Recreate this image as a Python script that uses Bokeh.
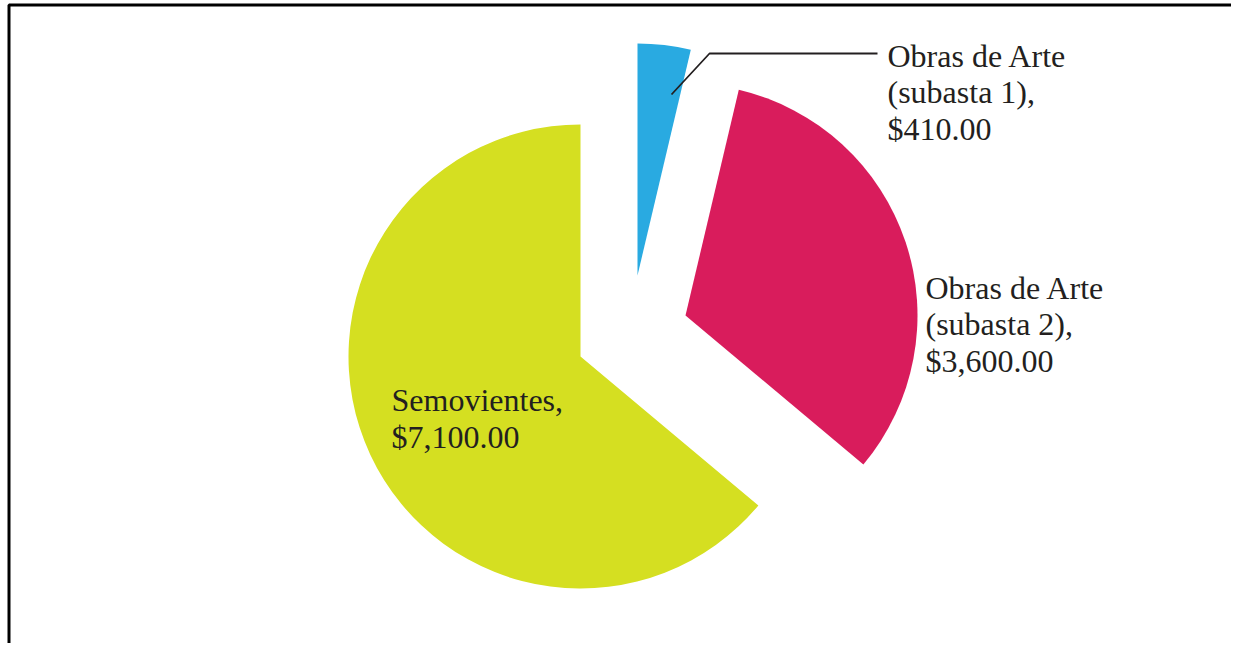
import math
from bokeh.plotting import figure
from bokeh.models import ColumnDataSource, Range1d
from bokeh.core.properties import value
from bokeh.embed import file_html
from bokeh.resources import INLINE

# ---- data ----
categories = ["Obras de Arte (subasta 1)", "Obras de Arte (subasta 2)", "Semovientes"]
label_names = [["Obras de Arte", "(subasta 1),"], ["Obras de Arte", "(subasta 2),"], ["Semovientes,"]]
values = [410, 3600, 7100]
colors = ["#29aae1", "#d91c5c", "#d5df21"]

# ---- layout (pixel-like data space) ----
W, H = 1231, 643
radius = 232
centers_x = [637, 685, 580]
centers_y = [368, 328, 287]
label_x = [887, 925, 391]
label_y = [551, 319, 225]
FONT = "Liberation Serif"
TXT = "#231f20"

total = sum(values)
start = math.pi / 2
starts, ends = [], []
for v in values:
    sweep = 2 * math.pi * v / total
    # clockwise slices: draw anticlockwise from end to start
    starts.append(start - sweep)
    ends.append(start)
    start -= sweep

src = ColumnDataSource(dict(x=centers_x, y=centers_y, s=starts, e=ends, c=colors, cat=categories))

p = figure(width=W, height=H, output_backend="svg", toolbar_location=None,
           x_range=Range1d(0, W), y_range=Range1d(0, H), min_border=0,
           background_fill_color="white", border_fill_color="white")
p.axis.visible = False
p.grid.visible = False
p.outline_line_color = None

p.wedge(x="x", y="y", radius=radius, start_angle="s", end_angle="e",
        direction="anticlock", fill_color="c", line_color=None, source=src)

# labels
texts = ["\n".join(n + [f"${v:,.2f}"]) for n, v in zip(label_names, values)]
lsrc = ColumnDataSource(dict(x=label_x, y=label_y, t=texts))
p.text(x="x", y="y", text="t", source=lsrc, text_font=value(FONT),
       text_font_size="32px", text_color=TXT, text_align="left",
       text_baseline="middle", text_line_height=1.02)

# leader line for the small slice
p.line(x=[671, 709, 877], y=[549, 590, 590], line_color="#231f20", line_width=1.8)

# frame border (top and left visible)
p.line(x=[8.5, 8.5, W], y=[0, H - 4.5, H - 4.5], line_color="black", line_width=3)

open("out.html", "w").write(file_html(p, INLINE))
